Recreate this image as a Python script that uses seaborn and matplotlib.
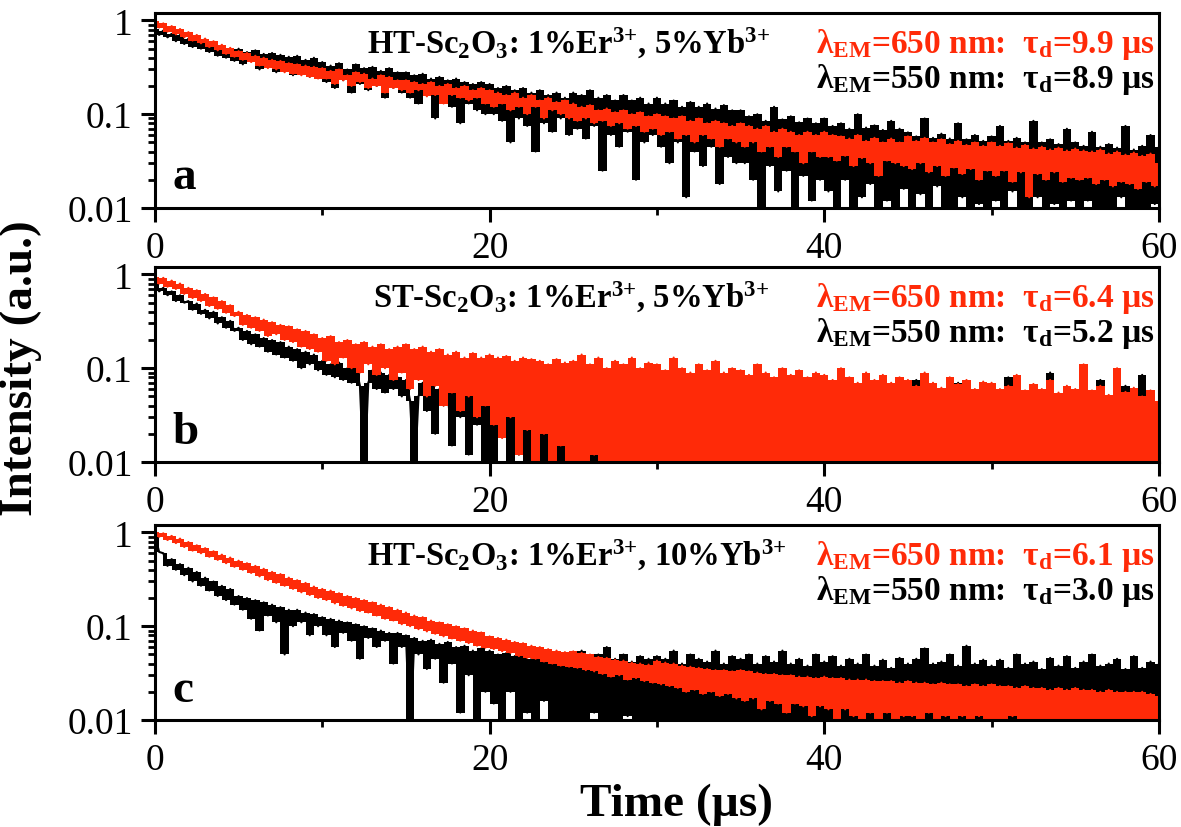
import numpy as np
import matplotlib
matplotlib.use('Agg')
import matplotlib.pyplot as plt
import seaborn as sns

# decay curves, one sample every 0.25 us (0 .. 60 us)
# values below 0.01 are points that sit under the axis floor
a_650 = [0.98, 0.84, 0.93, 0.76, 0.87, 0.71, 0.81, 0.66, 0.75, 0.61, 0.70, 0.57, 0.64, 0.52, 0.60, 0.48, 0.55, 0.44, 0.51, 0.41,
         0.47, 0.38, 0.45, 0.36, 0.42, 0.33, 0.40, 0.31, 0.38, 0.30, 0.37, 0.28, 0.35, 0.27, 0.34, 0.26, 0.33, 0.25, 0.32, 0.24,
         0.31, 0.24, 0.29, 0.21, 0.30, 0.23, 0.26, 0.20, 0.28, 0.22, 0.27, 0.19, 0.24, 0.20, 0.26, 0.17, 0.25, 0.19, 0.23, 0.18,
         0.23, 0.17, 0.22, 0.18, 0.21, 0.155, 0.22, 0.16, 0.20, 0.13, 0.21, 0.16, 0.19, 0.15, 0.20, 0.14, 0.18, 0.15, 0.19, 0.13,
         0.18, 0.12, 0.17, 0.13, 0.16, 0.11, 0.17, 0.12, 0.15, 0.10, 0.16, 0.12, 0.14, 0.09, 0.15, 0.11, 0.135, 0.10, 0.14, 0.09,
         0.13, 0.085, 0.12, 0.09, 0.125, 0.08, 0.11, 0.085, 0.115, 0.075, 0.105, 0.08, 0.11, 0.07, 0.10, 0.075, 0.105, 0.065, 0.095, 0.07,
         0.10, 0.06, 0.095, 0.065, 0.09, 0.055, 0.095, 0.06, 0.085, 0.05, 0.09, 0.06, 0.08, 0.055, 0.085, 0.045, 0.08, 0.055, 0.075, 0.05,
         0.08, 0.045, 0.075, 0.05, 0.07, 0.04, 0.075, 0.045, 0.065, 0.035, 0.07, 0.045, 0.065, 0.04, 0.06, 0.03, 0.065, 0.04, 0.06, 0.035,
         0.065, 0.035, 0.06, 0.032, 0.058, 0.036, 0.055, 0.028, 0.06, 0.034, 0.052, 0.03, 0.056, 0.022, 0.05, 0.032, 0.055, 0.03, 0.05, 0.028,
         0.058, 0.026, 0.052, 0.03, 0.056, 0.024, 0.05, 0.028, 0.054, 0.022, 0.048, 0.027, 0.052, 0.023, 0.047, 0.026, 0.05, 0.02, 0.046, 0.025,
         0.05, 0.022, 0.046, 0.025, 0.049, 0.019, 0.044, 0.024, 0.047, 0.013, 0.043, 0.023, 0.045, 0.02, 0.042, 0.024, 0.044, 0.019, 0.041, 0.021,
         0.043, 0.02, 0.041, 0.021, 0.04, 0.018, 0.042, 0.02, 0.038, 0.017, 0.04, 0.019, 0.037, 0.018, 0.039, 0.016, 0.036, 0.019, 0.038, 0.017,
         0.03]
a_550 = [0.82, 0.70, 0.78, 0.66, 0.72, 0.60, 0.70, 0.56, 0.64, 0.52, 0.62, 0.50, 0.57, 0.46, 0.56, 0.42, 0.52, 0.40, 0.50, 0.37,
         0.50, 0.34, 0.46, 0.38, 0.48, 0.30, 0.44, 0.33, 0.45, 0.28, 0.43, 0.31, 0.41, 0.26, 0.42, 0.30, 0.38, 0.25, 0.40, 0.27,
         0.36, 0.22, 0.33, 0.19, 0.35, 0.23, 0.30, 0.17, 0.34, 0.21, 0.31, 0.18, 0.32, 0.20, 0.29, 0.15, 0.31, 0.19, 0.28, 0.17,
         0.28, 0.15, 0.26, 0.13, 0.27, 0.16, 0.24, 0.09, 0.25, 0.14, 0.23, 0.12, 0.24, 0.08, 0.22, 0.13, 0.21, 0.11, 0.22, 0.10,
         0.21, 0.10, 0.19, 0.085, 0.20, 0.05, 0.18, 0.09, 0.19, 0.075, 0.17, 0.04, 0.18, 0.08, 0.16, 0.065, 0.17, 0.09, 0.15, 0.06,
         0.17, 0.07, 0.16, 0.055, 0.18, 0.075, 0.15, 0.025, 0.16, 0.06, 0.14, 0.045, 0.16, 0.065, 0.14, 0.02, 0.15, 0.05, 0.13, 0.06,
         0.15, 0.045, 0.13, 0.03, 0.14, 0.05, 0.12, 0.013, 0.135, 0.04, 0.12, 0.028, 0.13, 0.045, 0.115, 0.018, 0.125, 0.035, 0.11, 0.03,
         0.11, 0.03, 0.095, 0.02, 0.10, 0.008, 0.085, 0.028, 0.12, 0.015, 0.088, 0.025, 0.095, 0.007, 0.082, 0.022, 0.09, 0.012, 0.08, 0.02,
         0.09, 0.015, 0.075, 0.007, 0.08, 0.02, 0.07, 0.006, 0.10, 0.013, 0.072, 0.018, 0.076, 0.006, 0.068, 0.012, 0.085, 0.008, 0.07, 0.016,
         0.064, 0.007, 0.058, 0.014, 0.09, 0.006, 0.056, 0.017, 0.062, 0.009, 0.055, 0.006, 0.08, 0.013, 0.054, 0.006, 0.06, 0.011, 0.052, 0.007,
         0.058, 0.012, 0.075, 0.006, 0.052, 0.015, 0.056, 0.006, 0.05, 0.009, 0.085, 0.013, 0.05, 0.006, 0.054, 0.011, 0.048, 0.006, 0.07, 0.012,
         0.05, 0.006, 0.046, 0.012, 0.065, 0.006, 0.045, 0.01, 0.048, 0.006, 0.044, 0.013, 0.075, 0.006, 0.042, 0.009, 0.046, 0.006, 0.06, 0.011,
         0.045]

b_650 = [0.95, 0.80, 0.92, 0.74, 0.86, 0.70, 0.80, 0.62, 0.72, 0.56, 0.68, 0.52, 0.62, 0.46, 0.57, 0.43, 0.52, 0.39, 0.47, 0.36,
         0.40, 0.29, 0.37, 0.27, 0.35, 0.25, 0.33, 0.22, 0.31, 0.23, 0.29, 0.20, 0.28, 0.19, 0.26, 0.17, 0.25, 0.16, 0.23, 0.15,
         0.21, 0.12, 0.22, 0.11, 0.19, 0.13, 0.20, 0.10, 0.18, 0.09, 0.19, 0.11, 0.17, 0.085, 0.18, 0.10, 0.16, 0.075, 0.17, 0.09,
         0.18, 0.06, 0.16, 0.075, 0.17, 0.05, 0.15, 0.065, 0.16, 0.04, 0.14, 0.055, 0.15, 0.035, 0.13, 0.05, 0.145, 0.03, 0.13, 0.04,
         0.14, 0.025, 0.13, 0.018, 0.135, 0.03, 0.12, 0.012, 0.13, 0.022, 0.125, 0.009, 0.12, 0.02, 0.11, 0.007, 0.125, 0.015, 0.115, 0.006,
         0.12, 0.008, 0.14, 0.006, 0.11, 0.012, 0.13, 0.006, 0.10, 0.009, 0.12, 0.006, 0.11, 0.01, 0.13, 0.006, 0.10, 0.008, 0.115, 0.006,
         0.11, 0.006, 0.095, 0.009, 0.13, 0.006, 0.10, 0.008, 0.09, 0.006, 0.11, 0.01, 0.095, 0.006, 0.12, 0.007, 0.09, 0.006, 0.10, 0.009,
         0.095, 0.006, 0.085, 0.008, 0.11, 0.006, 0.09, 0.009, 0.08, 0.006, 0.10, 0.007, 0.085, 0.006, 0.095, 0.01, 0.08, 0.006, 0.09, 0.007,
         0.085, 0.006, 0.075, 0.009, 0.10, 0.006, 0.08, 0.007, 0.07, 0.006, 0.09, 0.008, 0.075, 0.006, 0.085, 0.01, 0.07, 0.006, 0.08, 0.007,
         0.075, 0.006, 0.065, 0.008, 0.09, 0.006, 0.07, 0.009, 0.062, 0.006, 0.08, 0.007, 0.068, 0.006, 0.075, 0.01, 0.06, 0.006, 0.072, 0.008,
         0.07, 0.006, 0.06, 0.008, 0.065, 0.006, 0.085, 0.009, 0.058, 0.006, 0.068, 0.007, 0.06, 0.006, 0.075, 0.009, 0.055, 0.006, 0.065, 0.008,
         0.06, 0.006, 0.11, 0.008, 0.058, 0.006, 0.065, 0.009, 0.052, 0.006, 0.10, 0.007, 0.056, 0.006, 0.062, 0.008, 0.05, 0.006, 0.058, 0.007,
         0.045]
b_550 = [0.80, 0.66, 0.72, 0.60, 0.66, 0.52, 0.60, 0.50, 0.52, 0.42, 0.49, 0.38, 0.42, 0.34, 0.40, 0.30, 0.35, 0.27, 0.32, 0.25,
         0.27, 0.20, 0.25, 0.18, 0.23, 0.17, 0.21, 0.15, 0.20, 0.14, 0.19, 0.13, 0.17, 0.12, 0.16, 0.10, 0.15, 0.11, 0.14, 0.095,
         0.12, 0.085, 0.11, 0.08, 0.115, 0.075, 0.10, 0.07, 0.105, 0.065, 0.006, 0.07, 0.095, 0.06, 0.09, 0.055, 0.085, 0.06, 0.08, 0.05,
         0.075, 0.045, 0.006, 0.05, 0.07, 0.035, 0.065, 0.02, 0.06, 0.04, 0.055, 0.015, 0.058, 0.03, 0.05, 0.012, 0.052, 0.025, 0.045, 0.008,
         0.048, 0.006, 0.042, 0.02, 0.05, 0.006, 0.04, 0.012, 0.045, 0.006, 0.038, 0.015, 0.044, 0.006, 0.036, 0.01, 0.042, 0.006, 0.035, 0.012,
         0.045, 0.006, 0.04, 0.012, 0.05, 0.006, 0.038, 0.01, 0.044, 0.006, 0.036, 0.014, 0.048, 0.006, 0.04, 0.009, 0.042, 0.006, 0.035, 0.011,
         0.06, 0.006, 0.05, 0.012, 0.085, 0.006, 0.045, 0.01, 0.055, 0.006, 0.09, 0.013, 0.05, 0.006, 0.06, 0.01, 0.045, 0.006, 0.07, 0.012,
         0.05, 0.006, 0.045, 0.011, 0.06, 0.006, 0.042, 0.009, 0.055, 0.006, 0.04, 0.012, 0.05, 0.006, 0.045, 0.01, 0.058, 0.006, 0.042, 0.009,
         0.048, 0.006, 0.04, 0.011, 0.055, 0.006, 0.045, 0.009, 0.05, 0.006, 0.04, 0.012, 0.06, 0.006, 0.042, 0.01, 0.05, 0.006, 0.045, 0.008,
         0.05, 0.006, 0.075, 0.01, 0.045, 0.006, 0.055, 0.012, 0.04, 0.006, 0.05, 0.009, 0.07, 0.006, 0.045, 0.011, 0.05, 0.006, 0.04, 0.009,
         0.055, 0.006, 0.045, 0.01, 0.08, 0.006, 0.05, 0.012, 0.045, 0.006, 0.065, 0.009, 0.05, 0.006, 0.09, 0.011, 0.045, 0.006, 0.055, 0.008,
         0.05, 0.006, 0.06, 0.01, 0.045, 0.006, 0.075, 0.012, 0.05, 0.006, 0.045, 0.009, 0.065, 0.006, 0.05, 0.01, 0.085, 0.006, 0.045, 0.006,
         0.04]

c_650 = [1.0, 0.90, 0.98, 0.83, 0.92, 0.77, 0.86, 0.70, 0.79, 0.64, 0.73, 0.60, 0.68, 0.55, 0.63, 0.51, 0.58, 0.47, 0.54, 0.43,
         0.50, 0.40, 0.47, 0.37, 0.44, 0.34, 0.41, 0.31, 0.38, 0.29, 0.36, 0.27, 0.33, 0.25, 0.31, 0.23, 0.29, 0.215, 0.265, 0.20,
         0.25, 0.19, 0.24, 0.175, 0.225, 0.165, 0.21, 0.155, 0.20, 0.145, 0.19, 0.14, 0.18, 0.13, 0.17, 0.12, 0.16, 0.115, 0.15, 0.105,
         0.14, 0.10, 0.13, 0.093, 0.125, 0.088, 0.115, 0.083, 0.11, 0.078, 0.105, 0.074, 0.10, 0.07, 0.095, 0.066, 0.09, 0.062, 0.086, 0.059,
         0.078, 0.057, 0.075, 0.054, 0.072, 0.052, 0.068, 0.048, 0.066, 0.046, 0.062, 0.045, 0.06, 0.042, 0.057, 0.04, 0.055, 0.038, 0.053, 0.037,
         0.054, 0.036, 0.052, 0.034, 0.05, 0.033, 0.047, 0.031, 0.046, 0.029, 0.044, 0.03, 0.043, 0.027, 0.041, 0.028, 0.04, 0.026, 0.039, 0.025,
         0.043, 0.024, 0.041, 0.023, 0.04, 0.022, 0.038, 0.02, 0.037, 0.021, 0.036, 0.019, 0.035, 0.02, 0.034, 0.018, 0.034, 0.019, 0.033, 0.017,
         0.034, 0.016, 0.033, 0.017, 0.032, 0.013, 0.031, 0.016, 0.031, 0.015, 0.03, 0.012, 0.03, 0.015, 0.029, 0.014, 0.029, 0.011, 0.028, 0.014,
         0.029, 0.013, 0.028, 0.009, 0.028, 0.013, 0.027, 0.011, 0.027, 0.008, 0.027, 0.012, 0.026, 0.01, 0.026, 0.012, 0.026, 0.008, 0.025, 0.011,
         0.026, 0.011, 0.025, 0.008, 0.025, 0.012, 0.024, 0.009, 0.025, 0.011, 0.024, 0.007, 0.024, 0.011, 0.023, 0.009, 0.024, 0.011, 0.023, 0.008,
         0.024, 0.01, 0.023, 0.008, 0.023, 0.011, 0.022, 0.009, 0.023, 0.01, 0.022, 0.007, 0.022, 0.01, 0.021, 0.009, 0.022, 0.01, 0.021, 0.008,
         0.022, 0.01, 0.021, 0.008, 0.021, 0.01, 0.02, 0.009, 0.021, 0.01, 0.02, 0.007, 0.02, 0.01, 0.02, 0.009, 0.02, 0.01, 0.019, 0.008,
         0.018]
c_550 = [0.92, 0.62, 0.60, 0.44, 0.52, 0.40, 0.46, 0.35, 0.42, 0.30, 0.38, 0.27, 0.33, 0.24, 0.30, 0.21, 0.27, 0.19, 0.25, 0.17,
         0.21, 0.15, 0.20, 0.12, 0.19, 0.09, 0.18, 0.13, 0.17, 0.11, 0.16, 0.05, 0.15, 0.10, 0.15, 0.11, 0.14, 0.08, 0.135, 0.10,
         0.125, 0.08, 0.12, 0.06, 0.115, 0.085, 0.11, 0.07, 0.105, 0.045, 0.10, 0.075, 0.095, 0.06, 0.09, 0.07, 0.085, 0.04, 0.085, 0.06,
         0.08, 0.006, 0.075, 0.05, 0.07, 0.035, 0.072, 0.045, 0.065, 0.025, 0.068, 0.04, 0.06, 0.012, 0.062, 0.03, 0.055, 0.006, 0.058, 0.02,
         0.055, 0.015, 0.05, 0.006, 0.052, 0.02, 0.048, 0.008, 0.05, 0.012, 0.045, 0.006, 0.048, 0.016, 0.044, 0.006, 0.046, 0.01, 0.042, 0.006,
         0.05, 0.008, 0.055, 0.006, 0.045, 0.012, 0.05, 0.006, 0.06, 0.009, 0.045, 0.006, 0.05, 0.011, 0.042, 0.006, 0.048, 0.008, 0.045, 0.006,
         0.048, 0.006, 0.045, 0.01, 0.055, 0.006, 0.04, 0.008, 0.05, 0.006, 0.045, 0.009, 0.042, 0.006, 0.055, 0.007, 0.04, 0.006, 0.048, 0.008,
         0.045, 0.006, 0.05, 0.008, 0.04, 0.006, 0.048, 0.009, 0.042, 0.006, 0.055, 0.007, 0.04, 0.006, 0.045, 0.008, 0.038, 0.006, 0.05, 0.007,
         0.042, 0.006, 0.048, 0.008, 0.038, 0.006, 0.045, 0.009, 0.04, 0.006, 0.05, 0.007, 0.038, 0.006, 0.044, 0.008, 0.036, 0.006, 0.046, 0.007,
         0.04, 0.006, 0.045, 0.008, 0.058, 0.006, 0.04, 0.009, 0.042, 0.006, 0.05, 0.007, 0.038, 0.006, 0.062, 0.008, 0.04, 0.006, 0.044, 0.007,
         0.038, 0.006, 0.044, 0.008, 0.036, 0.006, 0.05, 0.009, 0.04, 0.006, 0.042, 0.007, 0.035, 0.006, 0.046, 0.008, 0.038, 0.006, 0.048, 0.007,
         0.036, 0.006, 0.042, 0.008, 0.05, 0.006, 0.038, 0.009, 0.04, 0.006, 0.045, 0.007, 0.035, 0.006, 0.048, 0.008, 0.036, 0.006, 0.042, 0.007,
         0.04]

step_us = 0.25
panel_letters = ['a', 'b', 'c']
samples = [r'HT-Sc$_2$O$_3$: 1%Er$^{3{+}}$, 5%Yb$^{3{+}}$',
           r'ST-Sc$_2$O$_3$: 1%Er$^{3{+}}$, 5%Yb$^{3{+}}$',
           r'HT-Sc$_2$O$_3$: 1%Er$^{3{+}}$, 10%Yb$^{3{+}}$']
tau_650 = ['9.9', '6.4', '6.1']
tau_550 = ['8.9', '5.2', '3.0']
curves_650 = [a_650, b_650, c_650]
curves_550 = [a_550, b_550, c_550]

RED = '#ff2a08'

sns.set_style('ticks')
plt.rcParams['font.family'] = ['Liberation Serif', 'DejaVu Serif']
plt.rcParams['mathtext.default'] = 'regular'
plt.rcParams['axes.linewidth'] = 2.2
for k in ['text.color', 'axes.edgecolor', 'axes.labelcolor', 'xtick.color', 'ytick.color']:
    plt.rcParams[k] = 'black'


def draw_trace(ax, vals, color, z):
    y = np.array(vals)
    t = np.arange(len(y)) * step_us
    # solid band between each sample and the next one, then the trace itself on top
    ax.fill_between(t, y, np.append(y[1:], y[-1]), step='post', color=color, lw=0, zorder=z)
    sns.lineplot(x=t, y=y, ax=ax, color=color, lw=1.5, zorder=z + 0.1)


fig = plt.figure(figsize=(11.81, 8.28), dpi=100)
bottoms = [0.7476, 0.4408, 0.1292]
title_x = [0.211, 0.217, 0.211]

for i in range(3):
    ax = fig.add_axes([0.1312, bottoms[i], 0.8501, 0.2355])
    draw_trace(ax, curves_550[i], 'black', 1.0)
    draw_trace(ax, curves_650[i], RED, 1.5)
    ax.set_yscale('log')
    ax.set_ylim(0.01, 1.2)
    ax.set_xlim(0, 60)
    ax.set_yticks([0.01, 0.1, 1])
    ax.set_yticklabels(['0.01', '0.1', '1'])
    ax.set_xticks([0, 20, 40, 60])
    ax.set_xticks([10, 30, 50], minor=True)
    ax.set_xlabel('')
    ax.set_ylabel('')
    ax.tick_params(which='major', direction='out', length=10, width=2.2, labelsize=27, pad=6)
    ax.tick_params(which='minor', direction='out', length=5, width=2.0)
    for s in ax.spines.values():
        s.set_visible(True)
        s.set_linewidth(2.2)
        s.set_color('black')
        s.set_zorder(3)

    ax.text(title_x[i], 0.795, samples[i], transform=ax.transAxes, fontsize=23.5,
            fontweight='bold', ha='left', va='baseline')
    ax.text(0.996, 0.80, r'λ$_{EM}$=650 nm:  τ$_d$=' + tau_650[i] + ' µs', transform=ax.transAxes,
            fontsize=24, fontweight='bold', color=RED, ha='right', va='baseline')
    ax.text(0.996, 0.62, r'λ$_{EM}$=550 nm:  τ$_d$=' + tau_550[i] + ' µs', transform=ax.transAxes,
            fontsize=24, fontweight='bold', color='black', ha='right', va='baseline')
    ax.text(0.017, 0.1, panel_letters[i], transform=ax.transAxes, fontsize=34,
            fontweight='bold', ha='left', va='baseline')

fig.text(0.018, 0.556, 'Intensity (a.u.)', rotation=90, fontsize=34, fontweight='bold',
         ha='center', va='center')
fig.text(0.573, 0.028, 'Time (µs)', fontsize=34, fontweight='bold', ha='center', va='center')

fig.savefig('out.png', dpi=100)
